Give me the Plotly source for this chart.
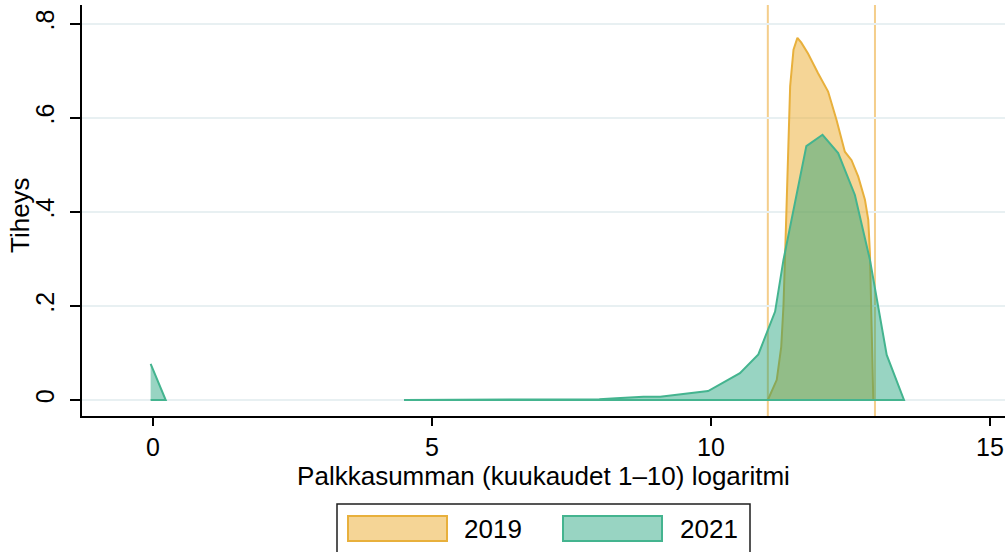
import plotly.graph_objects as go

# ---- data ----
x2019 = [11.02, 11.10, 11.18, 11.26, 11.30, 11.33, 11.39, 11.42, 11.48, 11.55, 11.62,
         11.74, 11.92, 12.10, 12.25, 12.40, 12.52, 12.64, 12.76, 12.82, 12.85, 12.88, 12.91]
y2019 = [0.0, 0.02, 0.043, 0.113, 0.20, 0.31, 0.525, 0.667, 0.745, 0.77, 0.76,
         0.737, 0.695, 0.656, 0.596, 0.528, 0.51, 0.475, 0.426, 0.383, 0.31, 0.17, 0.0]

x2021 = [4.5, 5.0, 6.0, 6.8, 7.7, 8.0, 8.3, 8.79, 9.09, 9.68, 9.95, 10.52, 10.85,
         11.15, 11.30, 11.71, 12.00, 12.28, 12.58, 12.85, 13.15, 13.46]
y2021 = [0.0, 0.0003, 0.0006, 0.001, 0.0015, 0.0018, 0.004, 0.007, 0.007, 0.016, 0.019,
         0.057, 0.097, 0.188, 0.298, 0.540, 0.564, 0.525, 0.436, 0.298, 0.096, 0.0]

x2021_zero = [-0.04, 0.23]
y2021_zero = [0.077, 0.0]

ref_lines = [11.02, 12.94]

x_ticks = [0, 5, 10, 15]
y_ticks = [0, 0.2, 0.4, 0.6, 0.8]
y_tick_labels = ["0", ".2", ".4", ".6", ".8"]

series_names = ["2019", "2021"]

# ---- styles ----
C19_LINE = "rgb(232,176,60)"
C19_FILL = "rgba(235,172,45,0.5)"
C21_LINE = "rgb(68,180,143)"
C21_FILL = "rgba(26,160,120,0.45)"
VLINE = "rgba(240,190,100,0.75)"
GRID = "rgb(232,240,242)"
FONT = "Liberation Sans, Arial, sans-serif"

W, H = 1008, 552
ML, MR, MT, MB = 82, 3, 5, 136


def closed(xs, ys):
    return xs + [xs[-1], xs[0]], ys + [0, 0]


fig = go.Figure()

cx, cy = closed(x2019, y2019)
fig.add_trace(go.Scatter(x=cx, y=cy, mode="lines", fill="toself", fillcolor=C19_FILL,
                         line=dict(color=C19_LINE, width=2), showlegend=False,
                         name=series_names[0], hoverinfo="skip"))

for xs, ys in [(x2021_zero, y2021_zero), (x2021, y2021)]:
    cx, cy = closed(xs, ys)
    fig.add_trace(go.Scatter(x=cx, y=cy, mode="lines", fill="toself", fillcolor=C21_FILL,
                             line=dict(color=C21_LINE, width=2), showlegend=False,
                             name=series_names[1], hoverinfo="skip"))

for xv in ref_lines:
    fig.add_shape(type="line", xref="x", yref="paper", x0=xv, x1=xv, y0=0, y1=1,
                  line=dict(color=VLINE, width=2), layer="below")

# ---- manual legend (paper coordinates) ----
pw = W - ML - MR
ph = H - MT - MB


def px(v):
    return (v - ML) / pw


def py(v):
    return (H - MB - v) / ph


fig.add_shape(type="rect", xref="paper", yref="paper",
              x0=px(337), x1=px(750), y0=py(504), y1=py(570),
              line=dict(color="rgb(30,30,30)", width=1.5), fillcolor="white")
legend_items = [(348, C19_LINE, C19_FILL, 462), (563, C21_LINE, C21_FILL, 678)]
for (sx, lc, fc, tx), nm in zip(legend_items, series_names):
    fig.add_shape(type="rect", xref="paper", yref="paper",
                  x0=px(sx), x1=px(sx + 99), y0=py(516), y1=py(541),
                  line=dict(color=lc, width=2), fillcolor=fc)
    fig.add_annotation(xref="paper", yref="paper", x=px(tx), y=py(528.5),
                       text=nm, showarrow=False, xanchor="left", yanchor="middle",
                       font=dict(size=26, color="black", family=FONT))

# y-axis title
fig.add_annotation(xref="paper", yref="paper", x=px(20), y=py(215),
                   text="Tiheys", showarrow=False, textangle=-90,
                   xanchor="center", yanchor="middle",
                   font=dict(size=26, color="black", family=FONT))

fig.update_layout(
    width=W, height=H,
    margin=dict(l=ML, r=MR, t=MT, b=MB),
    plot_bgcolor="white", paper_bgcolor="white",
    font=dict(family=FONT, size=25, color="black"),
    showlegend=False,
)
fig.update_xaxes(range=[-1.27, 15.27], tickvals=x_ticks, ticks="outside", ticklen=8,
                 tickwidth=1.5, tickcolor="black", showline=True, linecolor="black",
                 linewidth=1.5, showgrid=False, zeroline=False, automargin=False,
                 tickfont=dict(size=25),
                 title=dict(text="Palkkasumman (kuukaudet 1–10) logaritmi",
                            font=dict(size=26), standoff=0))
fig.update_yaxes(range=[-0.034, 0.84], tickvals=y_ticks, ticktext=y_tick_labels,
                 tickangle=-90, ticks="outside", ticklen=10, tickwidth=1.5,
                 tickcolor="black", showline=True, linecolor="black", linewidth=1.5,
                 showgrid=True, gridcolor=GRID, gridwidth=1.5, zeroline=False,
                 automargin=False, tickfont=dict(size=25), ticklabelstandoff=6)

fig.write_html("out.html", config={"displayModeBar": False},
               post_script="document.body.style.margin='0';document.body.style.overflow='hidden';")
